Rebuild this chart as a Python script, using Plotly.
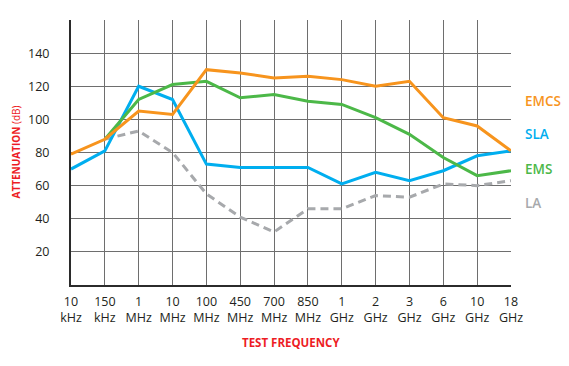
import plotly.graph_objects as go

freq_labels = ["10<br>kHz", "150<br>kHz", "1<br>MHz", "10<br>MHz", "100<br>MHz", "450<br>MHz",
               "700<br>MHz", "850<br>MHz", "1<br>GHz", "2<br>GHz", "3<br>GHz", "6<br>GHz",
               "10<br>GHz", "18<br>GHz"]
emcs = [79, 88, 105, 103, 130, 128, 125, 126, 124, 120, 123, 101, 96, 81]
sla = [70, 81, 120, 112, 73, 71, 71, 71, 61, 68, 63, 69, 78, 81]
ems = [None, 88, 112, 121, 123, 113, 115, 111, 109, 101, 91, 77, 66, 69]
la = [None, 88, 93, 80, 55, 41, 32, 46, 46, 54, 53, 61, 60, 63]
y_ticks = [20, 40, 60, 80, 100, 120, 140]

x = list(range(len(freq_labels)))
series = [
    ("LA", la, "#A7A9AC", "8px,5px"),
    ("SLA", sla, "#00AEEF", "solid"),
    ("EMS", ems, "#4CB848", "solid"),
    ("EMCS", emcs, "#F7941D", "solid"),
]

fig = go.Figure()
for name, vals, color, dash in series:
    fig.add_trace(go.Scatter(x=x, y=vals, name=name, mode="lines",
                             line=dict(color=color, width=3, dash=dash),
                             connectgaps=False))

# right-side labels (screen y of label centres; plot area spans 20..285 on screen)
label_y = {"EMCS": 100.5, "SLA": 134, "EMS": 168.5, "LA": 203}
for name, vals, color, dash in series:
    fig.add_annotation(text=name, xref="paper", yref="paper",
                       x=1.0, y=1 - (label_y[name] - 20) / 265.0, xanchor="left",
                       yanchor="middle", xshift=12, showarrow=False,
                       font=dict(family="Open Sans", size=13.5, color=color, weight=600))

fig.add_annotation(text="<b>ATTENUATION</b> (dB)", xref="paper", yref="paper",
                   x=0, y=0.5, xshift=-56, xanchor="center", yanchor="middle",
                   textangle=-90, showarrow=False,
                   font=dict(family="Open Sans", size=10, color="#ED1C24"))
fig.add_annotation(text="<b>TEST FREQUENCY</b>", xref="paper", yref="paper",
                   x=0.5, y=0, yshift=-57, yanchor="middle", showarrow=False,
                   font=dict(family="Open Sans", size=11.5, color="#ED1C24"))

fig.update_xaxes(range=[0, 13], tickvals=x, ticktext=freq_labels,
                 showgrid=True, gridcolor="#6e6e6e", gridwidth=1,
                 showline=True, linecolor="#2b2b2b", linewidth=2,
                 ticks="", zeroline=False, ticklabelstandoff=4,
                 tickfont=dict(family="Open Sans", size=12.5, color="#231F20"))
fig.update_yaxes(range=[0, 160], tickvals=y_ticks,
                 showgrid=True, gridcolor="#6e6e6e", gridwidth=1,
                 showline=True, linecolor="#2b2b2b", linewidth=2,
                 ticks="", zeroline=False, ticklabelstandoff=17,
                 tickfont=dict(family="Open Sans", size=12.5, color="#231F20"))

# the page body has an 8px margin, so the figure is drawn 8px smaller and offset
fig.update_layout(width=561, height=358, showlegend=False,
                  margin=dict(l=63, r=58, t=12, b=81),
                  plot_bgcolor="white", paper_bgcolor="white")

fig.write_html("out.html")
